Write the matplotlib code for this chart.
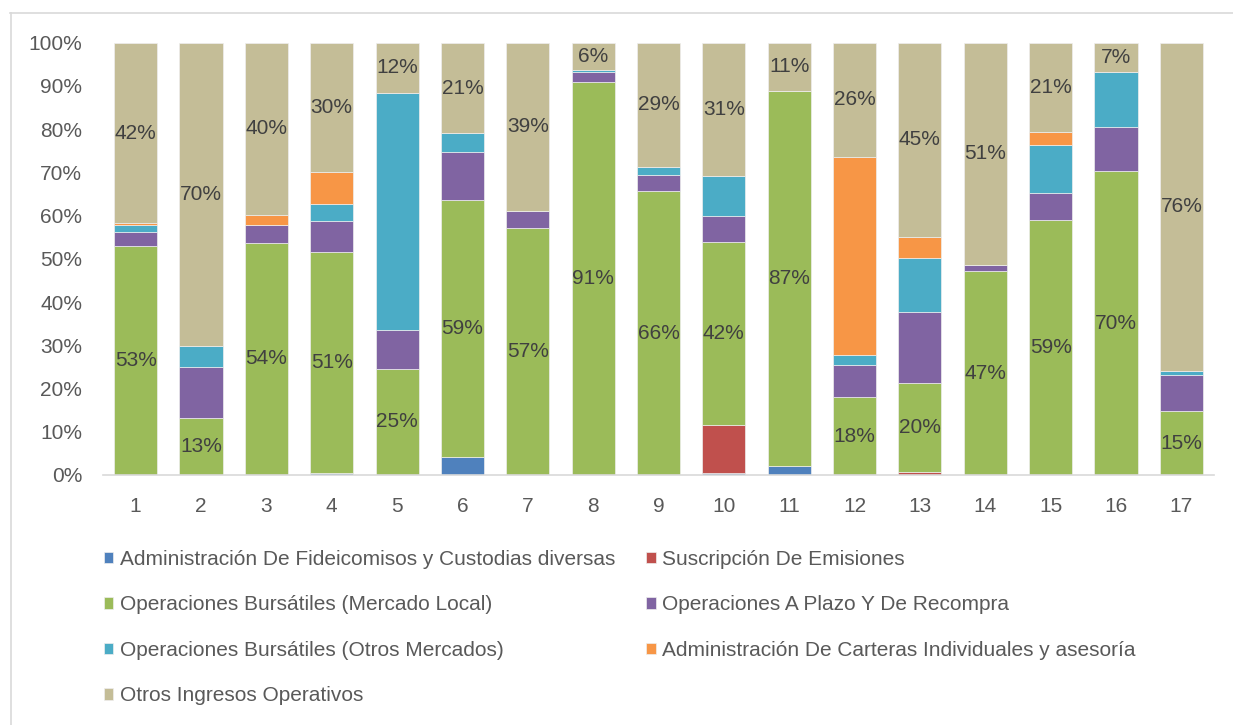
import matplotlib.pyplot as plt
from matplotlib.lines import Line2D
import numpy as np

# datos (porcentaje de ingresos por categoría)
bars = [str(i) for i in range(1, 18)]
series = [
    "Administración De Fideicomisos y Custodias diversas",
    "Suscripción De Emisiones",
    "Operaciones Bursátiles (Mercado Local)",
    "Operaciones A Plazo Y De Recompra",
    "Operaciones Bursátiles (Otros Mercados)",
    "Administración De Carteras Individuales y asesoría",
    "Otros Ingresos Operativos",
]
fideicomisos = [0, 0, 0, 0.5, 0, 4.1, 0, 0, 0, 0.5, 2.1, 0, 0, 0, 0, 0, 0]
suscripcion = [0, 0, 0, 0, 0, 0, 0, 0, 0, 11.1, 0, 0, 0.8, 0, 0, 0, 0]
bursatil_local = [53.0, 13.3, 53.7, 51.2, 24.6, 59.4, 57.2, 90.9, 65.6, 42.4, 86.7, 18.0, 20.4, 47.1, 59.1, 70.3, 14.8]
plazo_recompra = [3.3, 11.6, 4.1, 7.1, 9.0, 11.2, 3.9, 2.4, 3.8, 5.9, 0, 7.4, 16.4, 1.5, 6.1, 10.1, 8.3]
bursatil_otros = [1.5, 5.0, 0, 3.8, 54.8, 4.3, 0, 0.3, 1.9, 9.3, 0, 2.4, 12.5, 0, 11.1, 12.8, 1.0]
carteras = [0.4, 0, 2.3, 7.4, 0, 0, 0, 0, 0, 0, 0, 45.8, 5.0, 0, 3.0, 0, 0]
otros = [41.8, 70.1, 39.9, 30.0, 11.6, 21.0, 38.9, 6.4, 28.7, 30.8, 11.2, 26.4, 44.9, 51.4, 20.7, 6.8, 75.9]

colors = ["#4F81BD", "#C0504D", "#9BBB59", "#8064A2", "#4BACC6", "#F79646", "#C4BD97"]
values = [fideicomisos, suscripcion, bursatil_local, plazo_recompra, bursatil_otros, carteras, otros]
labeled = {2, 6}  # solo se etiquetan mercado local y otros ingresos

plt.rcParams["font.family"] = ["Liberation Sans", "DejaVu Sans"]

fig = plt.figure(figsize=(12.33, 7.25), dpi=100)
ax = fig.add_axes([103 / 1233, 1 - 475 / 725, (1214 - 103) / 1233, (475 - 42.7) / 725])

x = np.arange(1, len(bars) + 1)
bottom = np.zeros(len(bars))
handles = []
for i, (name, vals, col) in enumerate(zip(series, values, colors)):
    vals = np.array(vals, dtype=float)
    cont = ax.bar(x, vals, 0.66, bottom=bottom, color=col, edgecolor="#EEEEEE",
                  linewidth=0.5, label=name)
    handles.append(cont)
    if i in labeled:
        ax.bar_label(cont, labels=[f"{v:.0f}%" for v in vals], label_type="center",
                     color="#404040", fontsize=15)
    bottom += vals

ax.set_xlim(0.5, len(bars) + 0.5)
ax.set_ylim(0, 100)
ax.set_yticks(np.arange(0, 101, 10))
ax.set_yticklabels([f"{v}%" for v in range(0, 101, 10)])
ax.set_xticks(x)
ax.set_xticklabels(bars)
ax.tick_params(axis="both", length=0, labelsize=15, labelcolor="#595959")
ax.tick_params(axis="x", pad=16)
ax.tick_params(axis="y", pad=15)
for s in ["top", "right", "left"]:
    ax.spines[s].set_visible(False)
ax.spines["bottom"].set_color("#D9D9D9")
ax.spines["bottom"].set_linewidth(1.2)

# leyenda en orden por filas (dos columnas)
order = [0, 2, 4, 6, 1, 3, 5]
fig.legend([handles[i] for i in order], [series[i] for i in order], ncol=2,
           loc="upper left", bbox_to_anchor=(104 / 1233, 1 - 550 / 725),
           frameon=False, fontsize=15, labelcolor="#595959",
           handlelength=0.45, handleheight=0.45, handletextpad=0.3,
           labelspacing=1.27, columnspacing=1.5, borderpad=0, borderaxespad=0)

# marco del gráfico
fig.add_artist(Line2D([10 / 1233, 1], [1 - 13 / 725] * 2, color="#D9D9D9", lw=1.2))
fig.add_artist(Line2D([11 / 1233] * 2, [0, 1 - 13 / 725], color="#D9D9D9", lw=1.2))

fig.savefig("out.png", dpi=100)
